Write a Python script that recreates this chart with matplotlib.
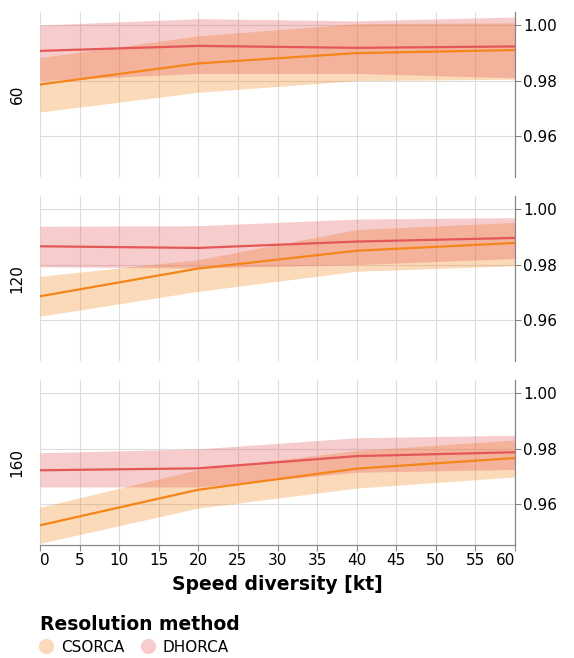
import matplotlib
matplotlib.use("Agg")
import matplotlib.pyplot as plt
from matplotlib.lines import Line2D

plt.rcParams['font.family'] = ['DejaVu Sans']

speed = [0, 20, 40, 60]
rows = ["60", "120", "160"]
methods = ["CSORCA", "DHORCA"]
colors = {"CSORCA": "#f58518", "DHORCA": "#e45756"}

# mean success rate per row, method
mean = {
    "60": {"CSORCA": [0.9786, 0.9862, 0.9899, 0.9910],
           "DHORCA": [0.9907, 0.9925, 0.9918, 0.9923]},
    "120": {"CSORCA": [0.9686, 0.9786, 0.9850, 0.9878],
            "DHORCA": [0.9866, 0.9860, 0.9883, 0.9896]},
    "160": {"CSORCA": [0.9524, 0.9652, 0.9728, 0.9766],
            "DHORCA": [0.9722, 0.9729, 0.9773, 0.9787]},
}
lower = {
    "60": {"CSORCA": [0.9687, 0.9758, 0.9800, 0.9805],
           "DHORCA": [0.9800, 0.9826, 0.9826, 0.9810]},
    "120": {"CSORCA": [0.9614, 0.9704, 0.9776, 0.9796],
            "DHORCA": [0.9792, 0.9788, 0.9800, 0.9822]},
    "160": {"CSORCA": [0.9459, 0.9586, 0.9658, 0.9698],
            "DHORCA": [0.9662, 0.9662, 0.9715, 0.9725]},
}
upper = {
    "60": {"CSORCA": [0.9883, 0.9961, 1.0005, 1.0008],
           "DHORCA": [1.0000, 1.0023, 1.0015, 1.0029]},
    "120": {"CSORCA": [0.9758, 0.9818, 0.9926, 0.9952],
            "DHORCA": [0.9938, 0.9940, 0.9964, 0.9969]},
    "160": {"CSORCA": [0.9589, 0.9725, 0.9793, 0.9831],
            "DHORCA": [0.9785, 0.9799, 0.9839, 0.9848]},
}

x_ticks = list(range(0, 61, 5))
y_ticks = [0.96, 0.98, 1.00]

W, H = 574, 658
fig = plt.figure(figsize=(W / 100, H / 100), dpi=100)

left, right = 40, 515
tops = [12, 196, 380]
panel_h = 165
grid_c = "#dddddd"
axis_c = "#888888"

for i, (row, top) in enumerate(zip(rows, tops)):
    ax = fig.add_axes([left / W, (H - top - panel_h) / H,
                       (right - left) / W, panel_h / H])
    for m in methods:
        ax.fill_between(speed, lower[row][m], upper[row][m],
                        color=colors[m], alpha=0.3, linewidth=0, zorder=2)
    for m in methods:
        ax.plot(speed, mean[row][m], color=colors[m], lw=1.6, zorder=3)
    ax.set_xlim(0, 60)
    ax.set_ylim(0.9453, 1.0047)
    ax.set_xticks(x_ticks)
    ax.set_yticks(y_ticks)
    ax.grid(True, color=grid_c, lw=0.8, zorder=0)
    ax.set_axisbelow(True)
    for s in ["top", "left", "bottom"]:
        ax.spines[s].set_visible(False)
    ax.spines["right"].set_color(axis_c)
    ax.spines["right"].set_linewidth(0.9)
    ax.yaxis.tick_right()
    ax.tick_params(axis="y", colors=axis_c, length=4, width=0.8,
                   labelcolor="black", labelsize=11, pad=2)
    ax.set_yticklabels([f"{v:.2f}" for v in y_ticks])
    if i < 2:
        ax.tick_params(axis="x", length=0, labelbottom=False)
    else:
        ax.spines["bottom"].set_visible(True)
        ax.spines["bottom"].set_color(axis_c)
        ax.spines["bottom"].set_linewidth(0.9)
        ax.tick_params(axis="x", colors=axis_c, length=4, width=0.8,
                       labelcolor="black", labelsize=11, pad=2)
        ax.set_xticklabels([str(v) for v in x_ticks])
        labs = ax.get_xticklabels()
        labs[0].set_ha("left")
        labs[-1].set_ha("right")
    fig.text(17 / W, (H - top - panel_h / 2) / H, row, rotation=90,
             ha="center", va="center", fontsize=11)

fig.text((left + right) / 2 / W, (H - 584) / H, "Speed diversity [kt]",
         ha="center", va="center", fontsize=13.5, fontweight="bold")

fig.text(40 / W, (H - 624) / H, "Resolution method",
         ha="left", va="center", fontsize=13.5, fontweight="bold")
handles = [Line2D([], [], ls="", marker="o", ms=11, color=colors[m], alpha=0.3,
                  markeredgewidth=0) for m in methods]
fig.legend(handles, methods, loc="center left",
           bbox_to_anchor=(37 / W, (H - 647) / H), ncol=2, frameon=False,
           fontsize=11, handletextpad=0.35, columnspacing=1.0,
           borderaxespad=0, borderpad=0, handlelength=1.2)

fig.savefig("out.png", dpi=100)
